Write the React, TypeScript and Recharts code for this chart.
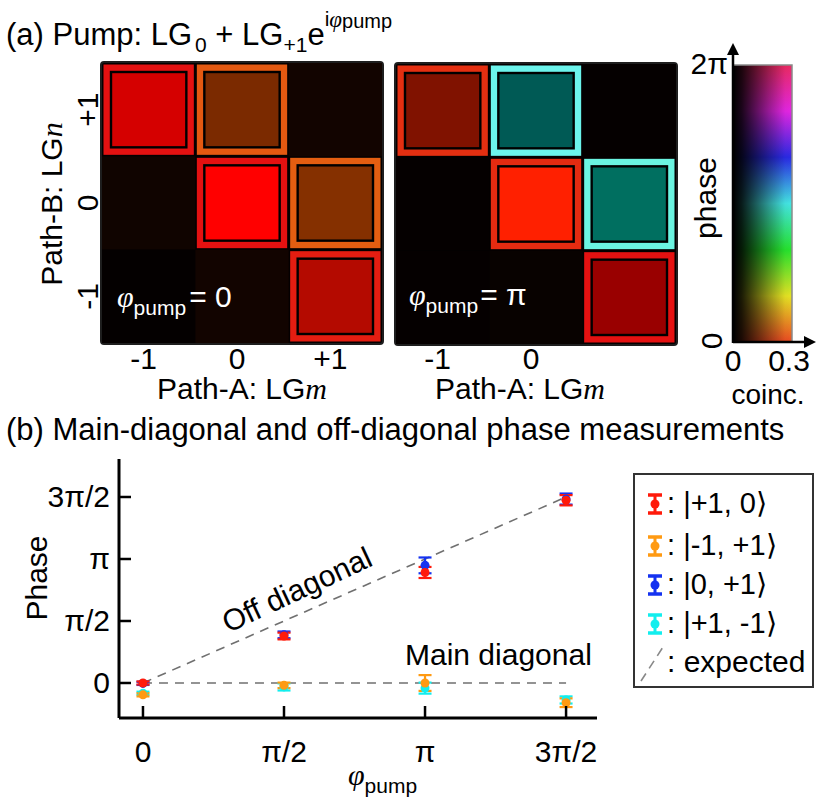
import React from 'react';
import {
  ComposedChart,
  ScatterChart,
  Scatter,
  Line,
  XAxis,
  YAxis,
  ErrorBar,
} from 'recharts';

const PI = Math.PI;
const FONT = '"Liberation Sans", Arial, Helvetica, sans-serif';
const SERIF = '"Liberation Serif", "DejaVu Serif", serif';

// ---- (a) coincidence maps: Path-A LGm (columns) x Path-B LGn (rows) ----
const modesA = [-1, 0, 1];
const modesB = [1, 0, -1];
const AMP_MAX = 0.3;

// rows n = +1, 0, -1 ; columns m = -1, 0, +1
const ampPump0 = [
  [0.25, 0.145, 0.021],
  [0.019, 0.3, 0.157],
  [0.005, 0.021, 0.212],
];
const phasePump0 = [
  [0.0, 0.36, 0.25],
  [0.25, 0.0, 0.38],
  [0.0, 0.25, 0.06],
];
const ampPumpPi = [
  [0.15, 0.106, 0.006],
  [0.006, 0.3, 0.13],
  [0.006, 0.009, 0.18],
];
const phasePumpPi = [
  [0.15, 3.08, 0.0],
  [0.0, 0.13, 3.0],
  [0.0, 0.3, 0.0],
];

// ---- (b) measured phases vs pump phase ----
const pumpPhase = [0, PI / 2, PI, (3 * PI) / 2];
const phaseTickLabels = ['0', 'π/2', 'π', '3π/2'];

const redPhase = [0.0, 1.19, 2.8, 4.63];
const redErr = [0.04, 0.085, 0.14, 0.13];
const orangePhase = [-0.3, -0.06, 0.0, -0.5];
const orangeErr = [0.04, 0.07, 0.2, 0.11];
const bluePhase = [-0.01, 1.22, 2.98, 4.66];
const blueErr = [0.04, 0.085, 0.2, 0.14];
const cyanPhase = [-0.26, -0.1, -0.13, -0.43];
const cyanErr = [0.04, 0.09, 0.14, 0.09];

const offExpected = [
  { x: 0, y: 0 },
  { x: (3 * PI) / 2, y: (3 * PI) / 2 },
];
const mainExpected = [
  { x: 0, y: 0 },
  { x: (3 * PI) / 2, y: 0 },
];

const series = [
  { name: '|+1, 0⟩', color: '#ff1a0a', values: redPhase, err: redErr },
  { name: '|-1, +1⟩', color: '#ff9a12', values: orangePhase, err: orangeErr },
  { name: '|0, +1⟩', color: '#1432f0', values: bluePhase, err: blueErr },
  { name: '|+1, -1⟩', color: '#12eeee', values: cyanPhase, err: cyanErr },
];
// draw order, red on top
const drawOrder = [3, 1, 2, 0];

const hsv = (ph: number, v: number) => {
  const h = ((((ph / (2 * PI)) % 1) + 1) % 1) * 6;
  const i = Math.floor(h);
  const f = h - i;
  const vv = Math.min(1, Math.max(0, v));
  const q = vv * (1 - f);
  const t = vv * f;
  const rgb = [
    [vv, t, 0],
    [q, vv, 0],
    [0, vv, t],
    [0, q, vv],
    [t, 0, vv],
    [vv, 0, q],
  ][i % 6];
  return `rgb(${rgb.map((c) => Math.round(c * 255)).join(',')})`;
};

const ringColor = (ph: number) => {
  const deg = (ph * 180) / PI;
  const l = 48 + 21 * Math.max(0, Math.cos(ph - PI));
  return `hsl(${deg.toFixed(1)}, 86%, ${l.toFixed(1)}%)`;
};

const CELL = 280 / 3;

const CellShape = (props: any) => {
  const { cx, cy, payload } = props;
  const h = CELL / 2;
  const inner = hsv(payload.phase, payload.amp / AMP_MAX);
  if (payload.amp < 0.05) {
    return <rect x={cx - h} y={cy - h} width={CELL} height={CELL} fill={inner} />;
  }
  return (
    <g>
      <rect x={cx - h + 1.5} y={cy - h + 1.5} width={CELL - 3} height={CELL - 3} fill={ringColor(payload.phase)} />
      <rect x={cx - h + 9} y={cy - h + 9} width={CELL - 18} height={CELL - 18} fill={inner} stroke="#000" strokeWidth={2.4} />
    </g>
  );
};

const fmtMode = (v: number) => (v > 0 ? `+${v}` : `${v}`);

const HeatMap = ({ amp, phase, left, width, marginLeft, top, showY, xTicks }: any) => {
  const cells = modesB.flatMap((n, r) => modesA.map((m, c) => ({ m, n, amp: amp[r][c], phase: phase[r][c] })));
  const yAxisW = showY ? 102 : 0;
  return (
    <div style={{ position: 'absolute', left, top: 0 }}>
      <div
        style={{
          position: 'absolute',
          left: marginLeft + yAxisW - 2,
          top: top - 2,
          width: 284,
          height: 284,
          boxSizing: 'border-box',
          background: '#040000',
          border: '2px solid #1e1e1e',
          borderRadius: 4,
        }}
      />
      <ScatterChart width={width} height={420} margin={{ top, right: width - marginLeft - yAxisW - 280, bottom: 0, left: marginLeft }}>
        <XAxis
          type="number"
          dataKey="m"
          domain={[-1.5, 1.5]}
          ticks={xTicks}
          height={420 - top - 280}
          axisLine={false}
          tickLine={false}
          tick={(p: any) => (
            <text x={p.x - 5} y={369} textAnchor="middle" fontSize={30} fontFamily={FONT} fill="#000">
              {fmtMode(p.payload.value)}
            </text>
          )}
        />
        <YAxis
          type="number"
          dataKey="n"
          domain={[-1.5, 1.5]}
          ticks={[-1, 0, 1]}
          width={yAxisW}
          hide={!showY}
          axisLine={false}
          tickLine={false}
          tick={(p: any) => (
            <text
              transform={`translate(98,${p.y}) rotate(-90)`}
              textAnchor="middle"
              fontSize={30}
              fontFamily={FONT}
              fill="#000"
            >
              {fmtMode(p.payload.value)}
            </text>
          )}
        />
        <Scatter data={cells} shape={CellShape} isAnimationActive={false} />
      </ScatterChart>
    </div>
  );
};

// colour key: hue = phase (0..2π, bottom to top), brightness = coincidences (0..0.3, left to right)
const ColorKey = () => (
  <g>
    <defs>
      <linearGradient id="hueGrad" x1="0" y1="1" x2="0" y2="0">
        <stop offset="0" stopColor="#ec4a22" />
        <stop offset="0.166" stopColor="#e6e424" />
        <stop offset="0.333" stopColor="#26e42e" />
        <stop offset="0.5" stopColor="#44e6e4" />
        <stop offset="0.667" stopColor="#2a2ae6" />
        <stop offset="0.833" stopColor="#e426e4" />
        <stop offset="1" stopColor="#ec2a62" />
      </linearGradient>
      <linearGradient id="darkGrad" x1="0" y1="0" x2="1" y2="0">
        <stop offset="0" stopColor="#000" stopOpacity={1} />
        <stop offset="0.15" stopColor="#000" stopOpacity={0.88} />
        <stop offset="0.6" stopColor="#000" stopOpacity={0.35} />
        <stop offset="0.88" stopColor="#000" stopOpacity={0.04} />
        <stop offset="1" stopColor="#000" stopOpacity={0} />
      </linearGradient>
    </defs>
    <rect x={733} y={65} width={59} height={277} fill="url(#hueGrad)" />
    <rect x={733} y={65} width={59} height={277} fill="url(#darkGrad)" stroke="#8a8a8a" strokeWidth={1.5} />
    <line x1={733} y1={343} x2={733} y2={52} stroke="#000" strokeWidth={2.5} />
    <polygon points="733,43 727,55 739,55" fill="#000" />
    <line x1={733} y1={342} x2={806} y2={342} stroke="#000" strokeWidth={2.5} />
    <polygon points="816,342 804,336 804,348" fill="#000" />
    <text x={728} y={74} textAnchor="end" fontSize={30} fill="#000">2π</text>
    <text transform="translate(722,341) rotate(-90)" textAnchor="middle" fontSize={30} fill="#000">0</text>
    <text transform="translate(716,198) rotate(-90)" textAnchor="middle" fontSize={30} fill="#000">phase</text>
    <text x={733} y={371} textAnchor="middle" fontSize={30} fill="#000">0</text>
    <text x={789} y={371} textAnchor="middle" fontSize={30} fill="#000">0.3</text>
    <text x={768} y={404} textAnchor="middle" fontSize={28} fill="#000">coinc.</text>
  </g>
);

// ---- (b) chart geometry ----
const B_TOP = 440;
const AXIS_X = 119;
const AXIS_Y = 718 - B_TOP;
const X_MIN = -0.267;
const X_MAX = 5.057;
const Y_MIN = -0.887;
const Y_MAX = 5.675;

const XTick = (p: any) => (
  <g>
    <line x1={p.x} x2={p.x} y1={AXIS_Y} y2={AXIS_Y - 12} stroke="#000" strokeWidth={2.5} />
    <text x={p.x} y={762 - B_TOP} textAnchor="middle" fontSize={30} fontFamily={FONT} fill="#000">
      {phaseTickLabels[p.index]}
    </text>
  </g>
);

const YTick = (p: any) => (
  <g>
    <line x1={AXIS_X} x2={AXIS_X + 12} y1={p.y} y2={p.y} stroke="#000" strokeWidth={2.5} />
    <text x={110} y={p.y + 10.5} textAnchor="end" fontSize={30} fontFamily={FONT} fill="#000">
      {phaseTickLabels[p.index]}
    </text>
  </g>
);

const PhaseChart = () => (
  <div style={{ position: 'absolute', left: 0, top: B_TOP }}>
    <ComposedChart width={640} height={360} margin={{ top: 459 - B_TOP, right: 640 - 597, bottom: 0, left: 0 }}>
      <XAxis
        type="number"
        dataKey="x"
        domain={[X_MIN, X_MAX]}
        ticks={pumpPhase}
        allowDataOverflow
        height={360 - AXIS_Y}
        axisLine={{ stroke: '#000', strokeWidth: 3 }}
        tickLine={false}
        tick={<XTick />}
      />
      <YAxis
        type="number"
        domain={[Y_MIN, Y_MAX]}
        ticks={pumpPhase}
        allowDataOverflow
        width={AXIS_X}
        axisLine={{ stroke: '#000', strokeWidth: 3 }}
        tickLine={false}
        tick={<YTick />}
      />
      <Line data={offExpected} dataKey="y" stroke="#707070" strokeWidth={1.6} strokeDasharray="9 7" dot={false} isAnimationActive={false} />
      <Line data={mainExpected} dataKey="y" stroke="#707070" strokeWidth={1.6} strokeDasharray="9 7" dot={false} isAnimationActive={false} />
      {drawOrder.map((k) => {
        const s = series[k];
        const data = pumpPhase.map((x, i) => ({ x, y: s.values[i], e: s.err[i] }));
        return (
          <Scatter
            key={s.name}
            data={data}
            dataKey="y"
            fill={s.color}
            isAnimationActive={false}
            shape={(p: any) => <circle cx={p.cx} cy={p.cy} r={4.5} fill={s.color} />}
          >
            <ErrorBar dataKey="e" direction="y" width={6.5} stroke={s.color} strokeWidth={2.2} />
          </Scatter>
        );
      })}
    </ComposedChart>
  </div>
);

const LegendIcon = ({ color }: { color: string }) => (
  <svg width={16} height={22} style={{ position: 'absolute', left: 12, top: -11 }}>
    <line x1={1} x2={15} y1={2} y2={2} stroke={color} strokeWidth={3.5} />
    <line x1={1} x2={15} y1={20} y2={20} stroke={color} strokeWidth={3.5} />
    <line x1={8} x2={8} y1={2} y2={20} stroke={color} strokeWidth={3} />
    <circle cx={8} cy={11} r={4.5} fill={color} />
  </svg>
);

const LegendBox = () => {
  const rows = [29, 71, 110, 149];
  return (
    <div
      style={{
        position: 'absolute',
        left: 633,
        top: 473,
        width: 181,
        height: 215,
        boxSizing: 'border-box',
        border: '2px solid #333',
        fontFamily: FONT,
        fontSize: 29,
        color: '#000',
      }}
    >
      {series.map((s, i) => (
        <div key={s.name} style={{ position: 'absolute', left: 0, top: rows[i], height: 0 }}>
          <LegendIcon color={s.color} />
          <span style={{ position: 'absolute', left: 32, top: -17, whiteSpace: 'nowrap', lineHeight: '32px' }}>: {s.name}</span>
        </div>
      ))}
      <div style={{ position: 'absolute', left: 0, top: 190, height: 0 }}>
        <svg width={30} height={40} style={{ position: 'absolute', left: 2, top: -20 }}>
          <line x1={4} y1={36} x2={26} y2={2} stroke="#888" strokeWidth={1.6} strokeDasharray="9 6" />
        </svg>
        <span style={{ position: 'absolute', left: 32, top: -19, whiteSpace: 'nowrap', lineHeight: '32px', fontSize: 30 }}>: expected</span>
      </div>
    </div>
  );
};

const Overlay = () => (
  <svg width={823} height={801} style={{ position: 'absolute', left: 0, top: 0, pointerEvents: 'none' }} fontFamily={FONT}>
    {/* (a) title */}
    <text x={6} y={45} fontSize={31} fill="#000">
      (a) Pump: LG
      <tspan fontSize={21} dx={3} dy={7}>0</tspan>
      <tspan dy={-7}> + LG</tspan>
      <tspan fontSize={21} dy={7}>+1</tspan>
      <tspan dy={-7}>e</tspan>
      <tspan fontSize={21} dy={-19}>i</tspan>
      <tspan fontSize={23} fontFamily={SERIF} fontStyle="italic" dy={1}>φ</tspan>
      <tspan fontSize={20} dy={1}>pump</tspan>
    </text>

    <text transform="translate(62,204) rotate(-90)" textAnchor="middle" fontSize={30} fill="#000">
      Path-B: LG<tspan fontFamily={SERIF} fontStyle="italic">n</tspan>
    </text>
    <text x={242} y={399} textAnchor="middle" fontSize={30} fill="#000">
      Path-A: LG<tspan fontFamily={SERIF} fontStyle="italic">m</tspan>
    </text>
    <text x={520} y={399} textAnchor="middle" fontSize={30} fill="#000">
      Path-A: LG<tspan fontFamily={SERIF} fontStyle="italic">m</tspan>
    </text>

    <text x={117} y={307} fontSize={30} fill="#fff">
      <tspan fontFamily={SERIF} fontStyle="italic">φ</tspan>
      <tspan fontSize={21} dy={8}>pump</tspan>
      <tspan dy={-8} dx={3}>= 0</tspan>
    </text>
    <text x={409} y={305} fontSize={30} fill="#fff">
      <tspan fontFamily={SERIF} fontStyle="italic">φ</tspan>
      <tspan fontSize={21} dy={8}>pump</tspan>
      <tspan dy={-8} dx={2}>= π</tspan>
    </text>

    <ColorKey />

    {/* (b) */}
    <text x={6} y={440} fontSize={31} fill="#000">
      (b) Main-diagonal and off-diagonal phase measurements
    </text>
    <text transform="translate(47,578) rotate(-90)" textAnchor="middle" fontSize={30} fill="#000">Phase</text>
    <text x={348} y={785} fontSize={30} fill="#000">
      <tspan fontFamily={SERIF} fontStyle="italic">φ</tspan>
      <tspan fontSize={21} dy={8}>pump</tspan>
    </text>
    <text transform="translate(297,590) rotate(-25)" y={10} textAnchor="middle" fontSize={30} fill="#000">
      Off diagonal
    </text>
    <text x={405} y={665} fontSize={30} fill="#000">Main diagonal</text>
  </svg>
);

export default function App() {
  return (
    <div style={{ position: 'absolute', left: 0, top: 0, width: 823, height: 801, background: '#fff', overflow: 'hidden' }}>
      <HeatMap amp={ampPump0} phase={phasePump0} left={0} width={400} marginLeft={0} top={63} showY xTicks={[-1, 0, 1]} />
      <HeatMap amp={ampPumpPi} phase={phasePumpPi} left={390} width={300} marginLeft={6} top={64} showY={false} xTicks={[-1, 0]} />
      <PhaseChart />
      <LegendBox />
      <Overlay />
    </div>
  );
}
